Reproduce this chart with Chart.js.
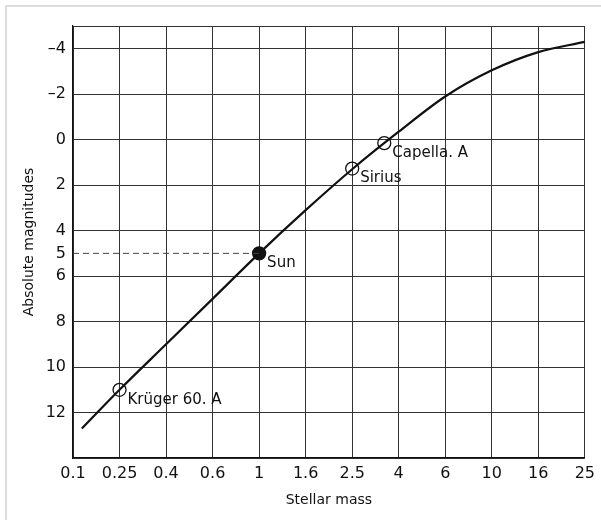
<!DOCTYPE html>
<html>
<head>
<meta charset="utf-8">
<script src="https://cdn.jsdelivr.net/npm/chart.js@4"></script>
<style>
  html, body { margin: 0; padding: 0; background: #fff; overflow: hidden; }
  #wrap { position: relative; width: 601px; height: 520px; overflow: hidden; }
  #frame { position: absolute; left: 5px; top: 5px; right: 0; bottom: 0;
           border-left: 2px solid #dcdcdc; border-top: 2px solid #dcdcdc; }
  canvas { position: absolute; left: 0; top: 0; }
</style>
</head>
<body>
<div id="wrap">
  <div id="frame"></div>
  <canvas id="chart" width="601" height="520"></canvas>
</div>
<script>
// ---- Data (x is the position along the mass axis: 0 = 0.1, 1 = 0.25, ...) ----
const massLabels = ["0.1", "0.25", "0.4", "0.6", "1", "1.6", "2.5", "4", "6", "10", "16", "25"];
const magTicks = [-5, -4, -2, 0, 2, 4, 5, 6, 8, 10, 12, 14];

// mass–luminosity curve
const curveX = [0.19, 1, 2, 3, 4, 5, 6, 7, 8, 9, 10, 11];
const curveMag = [12.7, 11, 9, 7, 5, 3.1, 1.3, -0.35, -1.9, -3.05, -3.85, -4.3];

// named stars
const starNames = ["Krüger 60. A", "Sun", "Sirius", "Capella. A"];
const starX = [1, 4, 6, 6.69];
const starMag = [11, 5, 1.27, 0.15];
const starFilled = [false, true, false, false];

// dashed guide to the Sun
const guideX = [0, 4];
const guideMag = [5, 5];

const FONT = "'DejaVu Sans', sans-serif";
const INK = "#111";

// star names next to their circles
const starLabels = {
  id: "starLabels",
  afterDatasetsDraw(chart) {
    const { ctx, scales } = chart;
    ctx.save();
    ctx.font = "15px " + FONT;
    ctx.fillStyle = INK;
    ctx.textBaseline = "middle";
    starNames.forEach((name, i) => {
      const px = scales.x.getPixelForValue(starX[i]);
      const py = scales.y.getPixelForValue(starMag[i]);
      ctx.fillText(name, px + 8, py + 10);
    });
    ctx.restore();
  },
};

new Chart(document.getElementById("chart"), {
  type: "scatter",
  data: {
    datasets: [
      {
        data: guideX.map((x, i) => ({ x, y: guideMag[i] })),
        showLine: true,
        borderColor: "#444",
        borderWidth: 1,
        borderDash: [6, 4],
        pointRadius: 0,
      },
      {
        data: curveX.map((x, i) => ({ x, y: curveMag[i] })),
        showLine: true,
        borderColor: INK,
        borderWidth: 2.2,
        cubicInterpolationMode: "monotone",
        pointRadius: 0,
      },
      {
        data: starX.map((x, i) => ({ x, y: starMag[i] })),
        showLine: false,
        pointRadius: 6.5,
        pointBorderWidth: 1.3,
        pointBorderColor: INK,
        pointBackgroundColor: starFilled.map(f => (f ? INK : "rgba(0,0,0,0)")),
      },
    ],
  },
  options: {
    animation: false,
    responsive: false,
    events: [],
    layout: { padding: { left: 0, top: 26, right: 14, bottom: 0 } },
    plugins: { legend: { display: false }, tooltip: { enabled: false } },
    scales: {
      x: {
        type: "linear",
        min: 0,
        max: 11,
        afterBuildTicks: axis => { axis.ticks = massLabels.map((_, i) => ({ value: i })); },
        afterFit: axis => { axis.height = 62; },
        ticks: {
          callback: v => massLabels[v] ?? "",
          font: { family: FONT, size: 16 },
          color: INK,
          padding: 6,
          maxRotation: 0,
          autoSkip: false,
        },
        grid: { color: "#333", lineWidth: 1, drawTicks: false },
        border: { color: INK, width: 1.2 },
        title: {
          display: true,
          text: "Stellar mass",
          font: { family: FONT, size: 14 },
          color: INK,
          padding: { top: 4, bottom: 11 },
        },
      },
      y: {
        type: "linear",
        min: -5,
        max: 14,
        reverse: true,
        afterBuildTicks: axis => { axis.ticks = magTicks.map(v => ({ value: v })); },
        afterFit: axis => { axis.width = 73; },
        ticks: {
          callback: v => (v === -5 || v === 14 ? "" : (v < 0 ? "\u2013" + Math.abs(v) : String(v))),
          font: { family: FONT, size: 16 },
          color: INK,
          padding: 7,
          autoSkip: false,
        },
        grid: {
          color: c => (c.tick && c.tick.value === 5 ? "rgba(0,0,0,0)" : "#333"),
          lineWidth: 1,
          drawTicks: false,
        },
        border: { color: INK, width: 1.2 },
        title: {
          display: true,
          text: "Absolute magnitudes",
          font: { family: FONT, size: 14 },
          color: INK,
          padding: { top: 21, bottom: 0 },
        },
      },
    },
  },
  plugins: [starLabels],
});
</script>
</body>
</html>
